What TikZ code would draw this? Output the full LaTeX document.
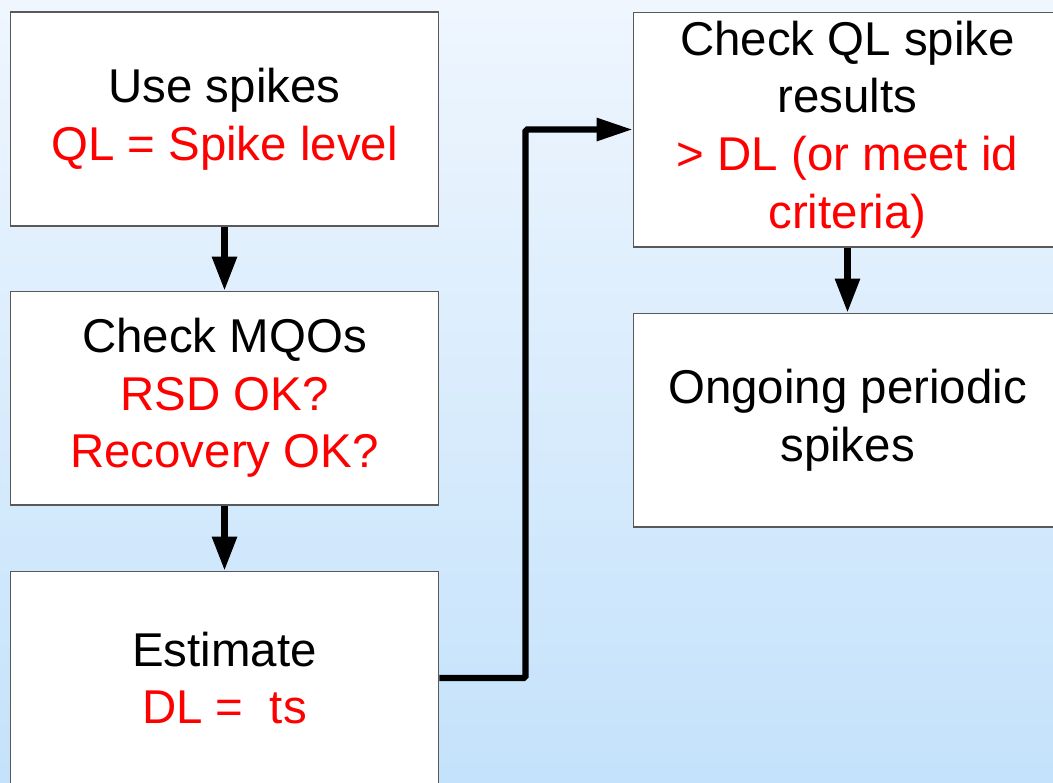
\documentclass[tikz,border=0pt]{standalone}
\usepackage{fontspec}
\setmainfont{Liberation Sans}
\usetikzlibrary{calc,arrows.meta}
\definecolor{bgtop}{RGB}{239,246,254}
\definecolor{bgbot}{RGB}{196,226,251}
\definecolor{hl}{RGB}{255,0,0}

\begin{document}
\begin{tikzpicture}[x=0.02cm,y=-0.02cm,
		stepbox/.style={draw=black!65,line width=0.6pt,fill=white,minimum width=8.58cm,minimum height=4.28cm,align=center,inner sep=0pt,font=\fontsize{27}{32.8}\selectfont},
		flow/.style={line width=3.5pt,-{Triangle[length=0.68cm,width=0.48cm]}},
		elbow/.style={line width=3.5pt,rounded corners=1pt,-{Triangle[length=0.72cm,width=0.44cm]}}
	]
	\useasboundingbox (0,0) rectangle (1053,782);
	\clip (0,0) rectangle (1053,782);
	\shade[top color=bgtop,bottom color=bgbot] (0,0) rectangle (1053,782);
	\node[stepbox] (use) at (224.5,119) {Use spikes\\\textcolor{hl}{QL = Spike level}};
	\node[stepbox] (mqo) at (224.5,398) {Check MQOs\\\textcolor{hl}{RSD OK?}\\\textcolor{hl}{Recovery OK?}};
	\node[stepbox] (est) at (224.5,678) {Estimate\\\textcolor{hl}{DL = \ ts}};
	\node[stepbox,minimum height=4.7cm] (chk) at (847.5,129.5) {Check QL spike\\results\\\textcolor{hl}{> DL (or meet id}\\\textcolor{hl}{criteria)}};
	\node[stepbox] (ong) at (847.5,420) {Ongoing periodic\\spikes};
	\draw[flow] (use) -- (mqo);
	\draw[flow] (mqo) -- (est);
	\draw[flow] (chk) -- (ong);
	\draw[elbow] (est.east) -- ++(86,0) |- (chk.west);
\end{tikzpicture}
\end{document}
